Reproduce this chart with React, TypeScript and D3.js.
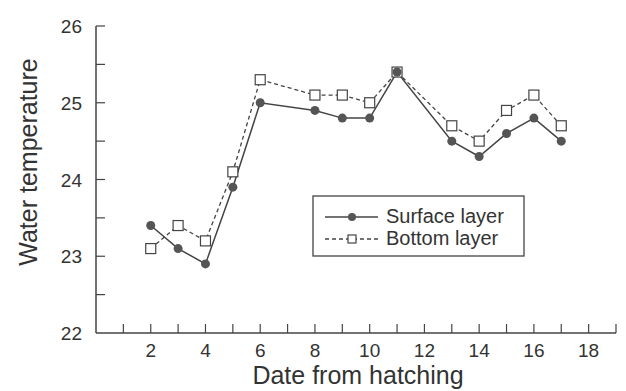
import React, { useEffect, useRef } from 'react';
import * as d3 from 'd3';

const days = [2, 3, 4, 5, 6, 8, 9, 10, 11, 13, 14, 15, 16, 17];
const surface = [23.4, 23.1, 22.9, 23.9, 25.0, 24.9, 24.8, 24.8, 25.4, 24.5, 24.3, 24.6, 24.8, 24.5];
const bottom = [23.1, 23.4, 23.2, 24.1, 25.3, 25.1, 25.1, 25.0, 25.4, 24.7, 24.5, 24.9, 25.1, 24.7];
const xTickLabels = [2, 4, 6, 8, 10, 12, 14, 16, 18];
const yTickLabels = [22, 23, 24, 25, 26];
const legendLabels = ['Surface layer', 'Bottom layer'];

const W = 626;
const H = 391;
const FONT = 'Liberation Sans, Arial, sans-serif';
const INK = '#444';

const App = () => {
  const svgRef = useRef<SVGSVGElement>(null);

  useEffect(() => {
    const svg = d3.select(svgRef.current);
    svg.selectAll('*').remove();
    svg.append('rect').attr('width', W).attr('height', H).attr('fill', '#fff');

    const x = d3.scaleLinear().domain([0, 19]).range([96, 616]);
    const y = d3.scaleLinear().domain([22, 26]).range([333, 26]);

    // axes (ticks point inward)
    const g = svg.append('g');
    g.append('line').attr('x1', x(0)).attr('x2', x(19)).attr('y1', y(22)).attr('y2', y(22))
      .attr('stroke', INK).attr('stroke-width', 1.5);
    g.append('line').attr('x1', x(0)).attr('x2', x(0)).attr('y1', y(22)).attr('y2', y(26))
      .attr('stroke', INK).attr('stroke-width', 1.5);

    g.selectAll('.xt').data(d3.range(1, 20)).join('line')
      .attr('x1', (d) => x(d)).attr('x2', (d) => x(d))
      .attr('y1', y(22)).attr('y2', y(22) - 9)
      .attr('stroke', INK).attr('stroke-width', 1.2);
    g.selectAll('.yt').data(d3.range(22.5, 26.01, 0.5)).join('line')
      .attr('x1', x(0)).attr('x2', x(0) + 9)
      .attr('y1', (d) => y(d)).attr('y2', (d) => y(d))
      .attr('stroke', INK).attr('stroke-width', 1.2);

    g.selectAll('.xl').data(xTickLabels).join('text')
      .attr('x', (d) => x(d)).attr('y', 357)
      .attr('text-anchor', 'middle').attr('font-size', 19).attr('font-family', FONT)
      .attr('fill', '#333').text((d) => d);
    g.selectAll('.yl').data(yTickLabels).join('text')
      .attr('x', 82).attr('y', (d) => y(d) + 7)
      .attr('text-anchor', 'end').attr('font-size', 19).attr('font-family', FONT)
      .attr('fill', '#333').text((d) => d);

    svg.append('text').attr('x', 358).attr('y', 384)
      .attr('text-anchor', 'middle').attr('font-size', 25).attr('font-family', FONT)
      .attr('fill', '#333').text('Date from hatching');
    svg.append('text').attr('transform', 'translate(37,162) rotate(-90)')
      .attr('text-anchor', 'middle').attr('font-size', 25).attr('font-family', FONT)
      .attr('fill', '#333').text('Water temperature');

    const line = d3.line<number>().x((_, i) => x(days[i])).y((d) => y(d));

    svg.append('path').datum(bottom).attr('d', line).attr('fill', 'none')
      .attr('stroke', INK).attr('stroke-width', 1.3).attr('stroke-dasharray', '4,3');
    svg.append('path').datum(surface).attr('d', line).attr('fill', 'none')
      .attr('stroke', INK).attr('stroke-width', 1.5);

    svg.selectAll('.sq').data(bottom).join('rect')
      .attr('x', (_, i) => x(days[i]) - 5).attr('y', (d) => y(d) - 5)
      .attr('width', 10).attr('height', 10)
      .attr('fill', '#fff').attr('stroke', INK).attr('stroke-width', 1.2);
    svg.selectAll('.dot').data(surface).join('circle')
      .attr('cx', (_, i) => x(days[i])).attr('cy', (d) => y(d)).attr('r', 4.5)
      .attr('fill', '#555');

    // legend
    const lg = svg.append('g');
    lg.append('rect').attr('x', 313).attr('y', 196).attr('width', 211).attr('height', 60)
      .attr('fill', '#fff').attr('stroke', INK).attr('stroke-width', 1.3);
    lg.append('line').attr('x1', 325).attr('x2', 378).attr('y1', 217).attr('y2', 217)
      .attr('stroke', INK).attr('stroke-width', 1.5);
    lg.append('circle').attr('cx', 352).attr('cy', 217).attr('r', 4).attr('fill', '#555');
    lg.append('line').attr('x1', 325).attr('x2', 378).attr('y1', 239).attr('y2', 239)
      .attr('stroke', INK).attr('stroke-width', 1.3).attr('stroke-dasharray', '4,3');
    lg.append('rect').attr('x', 348).attr('y', 235).attr('width', 8).attr('height', 8)
      .attr('fill', '#fff').attr('stroke', INK).attr('stroke-width', 1.2);
    lg.selectAll('.lt').data(legendLabels).join('text')
      .attr('x', 386).attr('y', (_, i) => 223 + i * 22)
      .attr('font-size', 20).attr('font-family', FONT).attr('fill', '#333')
      .text((d) => d);
  }, []);

  return (
    <div style={{ position: 'absolute', left: 0, top: 0, width: W, height: H }}>
      <svg ref={svgRef} width={W} height={H}></svg>
    </div>
  );
};

export default App;
